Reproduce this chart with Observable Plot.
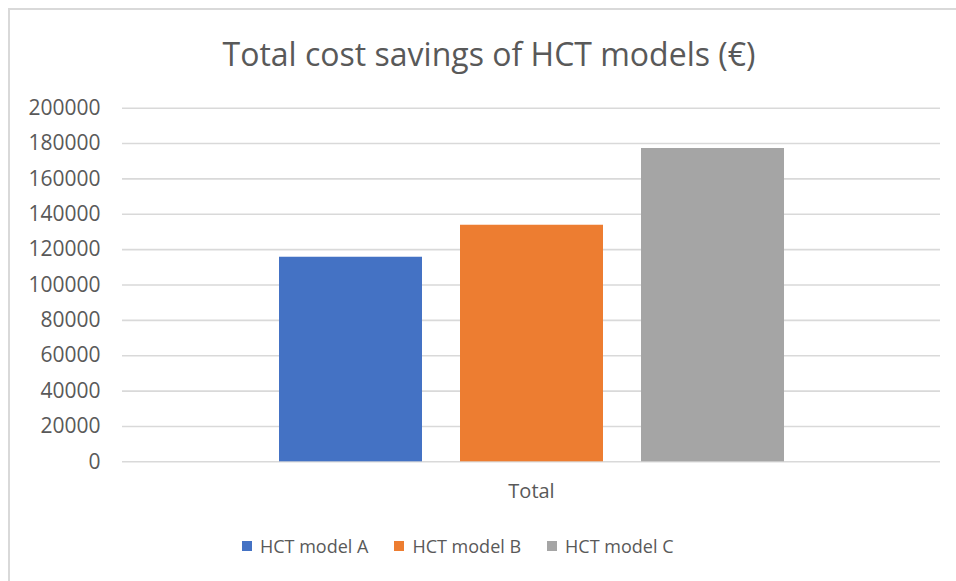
<!DOCTYPE html>
<html>
<head>
<meta charset="utf-8">
<script src="https://cdn.jsdelivr.net/npm/d3@7"></script>
<script src="https://cdn.jsdelivr.net/npm/@observablehq/plot@0.6"></script>
<style>
  html, body { margin: 0; padding: 0; background: #fff; }
  #wrap { position: relative; width: 956px; height: 581px; overflow: hidden; font-family: "Open Sans", sans-serif; color: #595959; }
  #frame { position: absolute; left: 8px; top: 8px; width: 1000px; height: 1000px; border-left: 2px solid #d9d9d9; border-top: 2px solid #d9d9d9; }
  #title { position: absolute; left: 0; width: 978px; top: 32px; text-align: center; font-size: 32px; line-height: 44px; white-space: nowrap; }
  #chart { position: absolute; left: 0; top: 90px; }
  #legend { position: absolute; left: 242px; top: 533px; display: flex; align-items: center; font-size: 18px; line-height: 26px; white-space: nowrap; }
  .item { display: flex; align-items: center; margin-right: 26px; }
  .sw { width: 10px; height: 10px; margin-right: 8px; }
</style>
</head>
<body>
<div id="wrap">
  <div id="frame"></div>
  <div id="title">Total cost savings of HCT models (€)</div>
  <div id="chart"></div>
  <div id="legend"></div>
</div>
<script>
const categories = ["Total"];
const models = ["HCT model A", "HCT model B", "HCT model C"];
const savings = [115700, 133800, 177200];
const yTicks = [0, 20000, 40000, 60000, 80000, 100000, 120000, 140000, 160000, 180000, 200000];
const colors = ["#4472C4", "#ED7D31", "#A5A5A5"];

const data = models.map((m, i) => ({cat: categories[0], model: m, value: savings[i]}));

const chart = Plot.plot({
  width: 956,
  height: 420,
  marginLeft: 122,
  marginRight: 16,
  marginTop: 17.7,
  marginBottom: 48.7,
  style: {fontFamily: "Open Sans, sans-serif", fontSize: "20px", color: "#595959", background: "transparent"},
  fx: {domain: categories, padding: 0, label: null},
  x: {domain: models, paddingInner: 0.21, paddingOuter: 0.86, axis: null},
  y: {domain: [0, 200000], label: null},
  color: {domain: models, range: colors},
  marks: [
    Plot.gridY(yTicks, {stroke: "#d9d9d9", strokeOpacity: 1, strokeWidth: 1.6}),
    Plot.axisY(yTicks, {tickSize: 0, tickPadding: 22, tickFormat: d => String(d), label: null, fontSize: 21}),
    Plot.axisFx({anchor: "bottom", tickSize: 0, tickPadding: 22, label: null, fontSize: 20}),
    Plot.barY(data, {fx: "cat", x: "model", y: "value", fill: "model"})
  ]
});
document.getElementById("chart").appendChild(chart);

const legend = document.getElementById("legend");
models.forEach((m, i) => {
  const item = document.createElement("div");
  item.className = "item";
  const sw = document.createElement("div");
  sw.className = "sw";
  sw.style.background = colors[i];
  const label = document.createElement("span");
  label.textContent = m;
  item.appendChild(sw);
  item.appendChild(label);
  legend.appendChild(item);
});
</script>
</body>
</html>
